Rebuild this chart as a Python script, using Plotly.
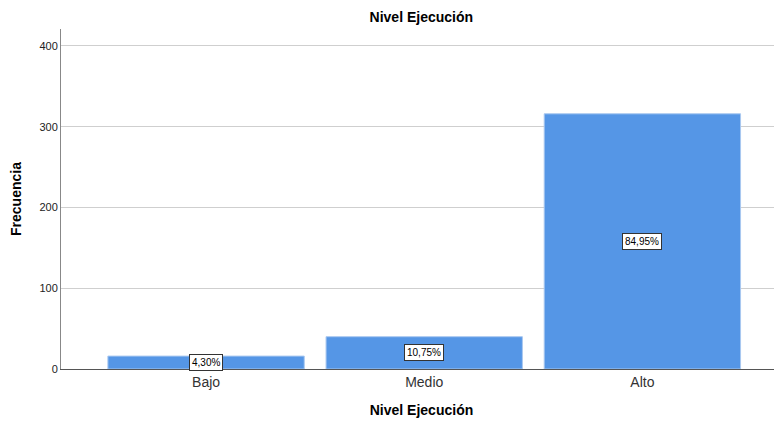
import plotly.graph_objects as go

categories = ["Bajo", "Medio", "Alto"]
counts = [16, 40, 316]
pct_labels = ["4,30%", "10,75%", "84,95%"]
y_ticks = [0, 100, 200, 300, 400]

fig = go.Figure()
fig.add_trace(go.Bar(
    x=categories, y=counts,
    marker=dict(color="#5596e6", line=dict(color="#a9c8f0", width=1)),
    width=0.9, hoverinfo="skip",
))

for c, v, t in zip(categories, counts, pct_labels):
    fig.add_annotation(
        x=c, y=v / 2, xref="x", yref="y", text=t, showarrow=False,
        font=dict(family="Arial, Liberation Sans", size=10, color="#000"),
        bgcolor="white", bordercolor="#333", borderwidth=1, borderpad=2,
    )

fig.update_layout(
    width=774, height=413,
    margin=dict(l=53, r=0, t=21, b=52),
    plot_bgcolor="white", paper_bgcolor="white",
    showlegend=False,
    title=dict(text="<b>Nivel Ejecución</b>", x=0.534, xanchor="center", y=0.978, yanchor="middle",
               font=dict(family="Arial, Liberation Sans", size=14, color="#000")),
    font=dict(family="Arial, Liberation Sans", color="#333"),
)
fig.update_xaxes(
    range=[-0.665, 2.64], showgrid=False, showline=True, linecolor="#555", linewidth=1,
    tickfont=dict(size=14, color="#333"), ticks="",
    title=dict(text="<b>Nivel Ejecución</b>", font=dict(size=14, color="#000"), standoff=16),
)
fig.update_yaxes(
    range=[0, 421], tickvals=y_ticks, showgrid=True, gridcolor="#cfcfcf", gridwidth=1,
    showline=True, linecolor="#888", linewidth=1, zeroline=False,
    tickfont=dict(size=11, color="#222"), ticks="",
    title=dict(text="<b>Frecuencia</b>", font=dict(size=14, color="#000"), standoff=14),
)

fig.write_html("out.html")
